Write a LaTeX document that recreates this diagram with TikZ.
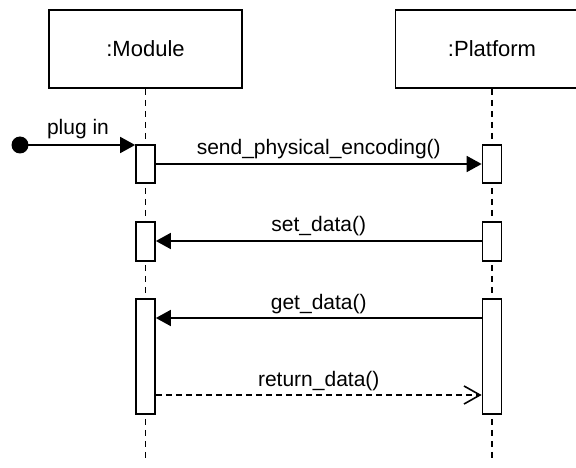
\documentclass[tikz,border=0pt]{standalone}
\usepackage{fontspec}
\setmainfont{Liberation Sans}
\usetikzlibrary{arrows.meta}
\begin{document}
\begin{tikzpicture}[x=1pt,y=-1pt,
  obj/.style={draw,line width=1.8pt,minimum width=193pt,minimum height=78pt,inner sep=0pt,font=\fontsize{22}{25}\selectfont},
  act/.style={draw,fill=white,line width=1.7pt,minimum width=19pt,inner sep=0pt},
  life/.style={line width=1.7pt,dash pattern=on 6pt off 5pt},
  msg/.style={line width=1.7pt,-{Triangle[length=15pt,width=16pt]}},
  ret/.style={line width=1.6pt,dash pattern=on 6pt off 4pt,-{Straight Barb[length=16pt,width=18pt,line width=1.6pt]}},
  lbl/.style={font=\fontsize{21}{24}\selectfont,inner sep=0pt,anchor=base}]
\useasboundingbox (0,0) rectangle (576,468);
\clip (0,0) rectangle (576,468);
\node[obj] (mod) at (145.5,49) {:Module};
\node[obj] (plat) at (492,49) {:Platform};
\coordinate (modend) at (145.5,462);
\coordinate (platend) at (492,462);
\draw[life] (mod.south) -- (modend);
\draw[life] (plat.south) -- (platend);
\node[act,minimum height=38pt] (m1) at (145.5,164) {};
\node[act,minimum height=38pt] (p1) at (492,164) {};
\node[act,minimum height=39pt] (m2) at (145.5,241.5) {};
\node[act,minimum height=39pt] (p2) at (492,241.5) {};
\node[act,minimum height=115pt] (m3) at (145.5,356.5) {};
\node[act,minimum height=115pt] (p3) at (492,356.5) {};
\node[circle,fill=black,minimum size=17pt,inner sep=0pt] (start) at (20,145) {};
\draw[msg] (start.center) -- (start.center -| m1.west);
\node[lbl] at (78,135) {plug in};
\draw[msg] (m1.east |- 0,164) -- (p1.west |- 0,164) node[lbl,midway,yshift=9pt] {send\_physical\_encoding()};
\draw[msg] (p2.west |- 0,241) -- (m2.east |- 0,241) node[lbl,midway,yshift=9pt] {set\_data()};
\draw[msg] (p3.west |- 0,318) -- (m3.east |- 0,318) node[lbl,midway,yshift=9pt] {get\_data()};
\draw[ret] (m3.east |- 0,395) -- (p3.west |- 0,395) node[lbl,midway,yshift=9pt] {return\_data()};
\end{tikzpicture}
\end{document}
